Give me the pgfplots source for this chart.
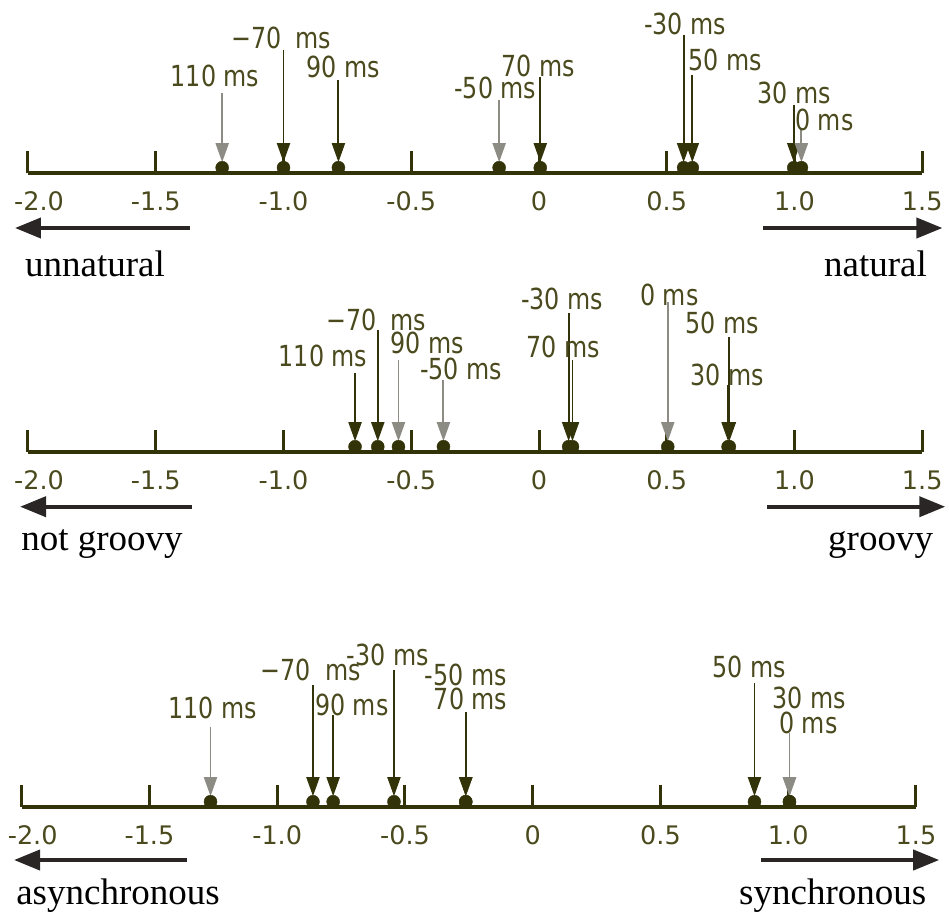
\documentclass[border=0pt]{standalone}
\usepackage{fontspec}
\usepackage{pgfplots}
\pgfplotsset{compat=1.18}
\usepackage{pgfplotstable}
\usetikzlibrary{arrows.meta}
\setmainfont{Liberation Serif}
\newfontfamily\lblfamily[FakeStretch=0.82]{DejaVu Sans}
\newfontfamily\tickfamily{DejaVu Sans}
\newcommand\lblfont{\lblfamily\fontsize{29}{30}\selectfont}
\newcommand\tickfont{\tickfamily\fontsize{25.5}{27}\selectfont}
\newcommand\wordfont{\fontsize{37}{40}\selectfont}
\definecolor{axisdark}{HTML}{33330A}
\definecolor{lbl}{HTML}{4A4A1E}
\definecolor{arrowgray}{HTML}{8C8C84}
\definecolor{arrowblk}{HTML}{2A2626}

% x = rating, top = where the arrow starts, g = 1 for a grey arrow,
% lx/ly = centre of the label
\pgfplotstableread[col sep=comma]{
x,top,g,lx,ly,label
-1.24,80,1,-1.268,96.7,110 ms
-1.00,123,0,-1.009,134.7,−70\enspace ms
-0.785,93,0,-0.767,105.7,90 ms
-0.156,73,1,-0.171,84.7,-50 ms
0.005,96,0,-0.003,106.7,70 ms
0.566,138,0,0.572,148.7,-30 ms
0.600,98,0,0.729,112.7,50 ms
0.997,68,0,0.999,79.7,30 ms
1.027,45,1,1.117,52.7,0 ms
}\tnatural

\pgfplotstableread[col sep=comma]{
x,top,g,lx,ly,label
-0.72,78.7,0,-0.845,95.7,110 ms
-0.631,121.7,0,-0.637,131.7,−70\enspace ms
-0.55,91.7,1,-0.438,108.7,90 ms
-0.374,71.7,1,-0.305,82.7,-50 ms
0.116,138.7,0,0.091,152.7,-30 ms
0.131,91.7,0,0.095,104.7,70 ms
0.504,150,1,0.510,156.7,0 ms
0.745,114.7,0,0.717,128.7,50 ms
0.74,66.7,0,0.737,76.7,30 ms
}\tgroovy

\pgfplotstableread[col sep=comma]{
x,top,g,lx,ly,label
-1.261,79.7,1,-1.252,98.7,110 ms
-0.86,121.7,0,-0.869,136.7,−70\enspace ms
-0.781,91.7,0,-0.708,101.7,90 ms
-0.543,136.7,0,-0.567,151.7,-30 ms
-0.262,94.7,0,-0.262,131.7,-50 ms
-0.262,94.7,0,-0.243,107.7,70 ms
0.868,123.7,0,0.848,139.7,50 ms
1.005,73.7,1,1.083,108.7,30 ms
1.005,73.7,1,1.079,83.7,0 ms
}\tsync

\pgfplotsset{
  scaleline/.style={
    scale only axis, x=255.5pt, y=1pt,
    xmin=-2, xmax=1.5, ymin=0, ymax=165,
    clip=false,
    axis x line*=bottom, axis y line=none,
    x axis line style={line width=4pt, color=axisdark},
    xtick={-2,-1.5,-1,-0.5,0,0.5,1,1.5},
    xticklabels={\kern22pt-2.0,-1.5,-1.0,-0.5,0,0.5,1.0,1.5},
    major tick length=22pt, tick align=inside,
    xtick style={line width=3pt, draw=axisdark},
    xticklabel style={font=\tickfont, text=lbl, anchor=north, inner sep=0pt, yshift=-19pt},
    ytick=\empty,
    colormap={arr}{color(0)=(axisdark) color(1)=(arrowgray)},
    point meta min=0, point meta max=1,
  },
  dots/.style={only marks, mark=*, mark size=6.5pt, color=axisdark},
  arrs/.style={point meta=\thisrow{g}, quiver={u=0, v={10.5-\thisrow{top}}, colored},
    -{Triangle[length=19pt,width=13pt]}, line width=1.9pt},
  lbls/.style={only marks, mark=none, point meta=explicit symbolic,
    nodes near coords, nodes near coords align=center,
    every node near coord/.append style={font=\lblfont, text=lbl, inner sep=0pt, anchor=center}},
}
\tikzset{dirarrow/.style={line width=4pt, color=arrowblk, -{Triangle[length=26pt,width=20pt]}}}

\begin{document}
\begin{tikzpicture}
\useasboundingbox (0,0) rectangle (949pt,-913pt);

%% natural
\begin{axis}[scaleline, at={(28pt,-172.7pt)}, anchor=south west]
  \addplot[arrs] table[x=x, y=top] {\tnatural};
  \addplot[dots] table[x=x, y expr=5] {\tnatural};
  \addplot[lbls] table[x=lx, y=ly, meta=label] {\tnatural};
  \draw[dirarrow] (axis cs:-1.366,-55.3) -- (axis cs:-2.051,-55.3);
  \draw[dirarrow] (axis cs:0.878,-55.3) -- (axis cs:1.579,-55.3);
  \node[anchor=base west, font=\wordfont, inner sep=0pt] at (axis cs:-2.012,-103.5) {unnatural};
  \node[anchor=base east, font=\wordfont, inner sep=0pt] at (axis cs:1.519,-103.5) {natural};
\end{axis}

%% groovy
\begin{axis}[scaleline, at={(28pt,-451.7pt)}, anchor=south west]
  \addplot[arrs] table[x=x, y=top] {\tgroovy};
  \addplot[dots] table[x=x, y expr=5] {\tgroovy};
  \addplot[lbls] table[x=lx, y=ly, meta=label] {\tgroovy};
  \draw[dirarrow] (axis cs:-1.358,-55) -- (axis cs:-2.031,-55);
  \draw[dirarrow] (axis cs:0.893,-55) -- (axis cs:1.590,-55);
  \node[anchor=base west, font=\wordfont, inner sep=0pt] at (axis cs:-2.027,-99) {not groovy};
  \node[anchor=base east, font=\wordfont, inner sep=0pt] at (axis cs:1.543,-99) {groovy};
\end{axis}

%% synchronous
\begin{axis}[scaleline, at={(21.7pt,-806.7pt)}, anchor=south west]
  \addplot[arrs] table[x=x, y=top] {\tsync};
  \addplot[dots] table[x=x, y expr=5] {\tsync};
  \addplot[lbls] table[x=lx, y=ly, meta=label] {\tsync};
  \draw[dirarrow] (axis cs:-1.354,-53.3) -- (axis cs:-2.030,-53.3);
  \draw[dirarrow] (axis cs:0.895,-53.3) -- (axis cs:1.591,-53.3);
  \node[anchor=base west, font=\wordfont, inner sep=0pt] at (axis cs:-2.022,-98) {asynchronous};
  \node[anchor=base east, font=\wordfont, inner sep=0pt] at (axis cs:1.541,-98) {synchronous};
\end{axis}
\end{tikzpicture}
\end{document}
